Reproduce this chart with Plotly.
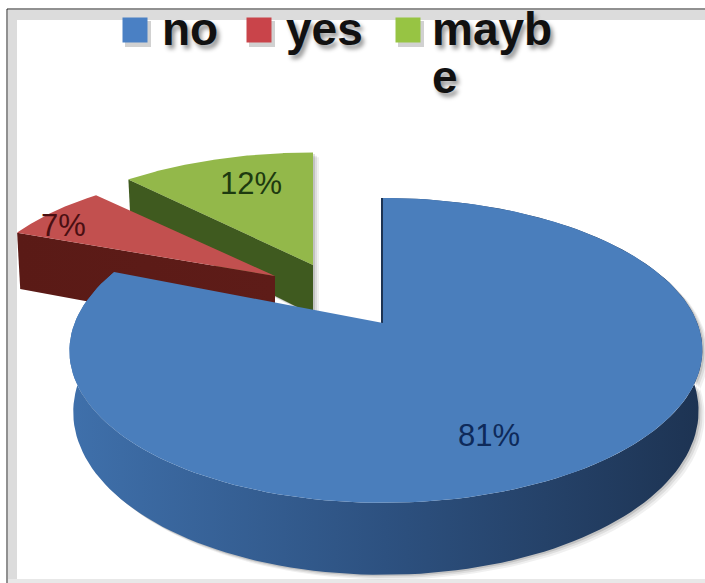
import numpy as np
import plotly.graph_objects as go

# ---- data ----
labels = ["no", "yes", "maybe"]
values = [81, 7, 12]
legend_lines = [["no"], ["yes"], ["mayb", "e"]]

# ---- styles ----
top_colors = ["#4a7ebc", "#c2504f", "#93b84a"]
swatch_colors = ["#4a80c4", "#c9444a", "#97c443"]
text_colors = ["#0e2a5a", "#4a0f12", "#1d3a10"]
wall_scales = [
    [[0, "#3f70ab"], [0.5, "#2d5180"], [1, "#1d3352"]],
    [[0, "#5a1a16"], [1, "#5e1c18"]],
    [[0, "#3f5a1f"], [1, "#3f5a1f"]],
]
W, H = 705, 583
RX, RY, K = 311.3, 147.5, 0.18     # projected disc
APEX = {0: (383, 323), 1: (275, 276), 2: (313, 265)}      # exploded slice origin
SKEW = {0: 3, 1: 0, 2: 0}
SCALE = {0: (1.0, 1.0), 1: (0.95, 0.85), 2: (0.98, 0.90)}
DEPTH = {0: 59, 1: 60, 2: 50}
LABEL_OFFSET = {0: (106, 112), 1: (-212, -51), 2: (-62, -82)}
LEGEND_SWATCH_X = [135, 259, 408]
LEGEND_TEXT_X = [160, 284, 430]
LEGEND_SWATCH_Y = 30
LEGEND_LINE_Y = [29, 77]


def project(theta, i, drop=0.0):
    u, v = np.sin(theta), np.cos(theta)
    w = 1 + K * v
    shrink = 1 - 0.012 * (drop > 0)
    x = APEX[i][0] + SCALE[i][0] * shrink * RX * u / w + SKEW[i] * u ** 2
    y = APEX[i][1] - SCALE[i][1] * RY * v / w + drop / w
    return x, y


total = sum(values)
edges = np.cumsum([0] + values) / total * 2 * np.pi

fig = go.Figure()


def poly(x, y, **kw):
    fig.add_trace(go.Scatter(x=x, y=y, mode="lines", fill="toself", showlegend=False,
                             hoverinfo="skip", **kw))


for i in [2, 1, 0]:
    t = np.linspace(edges[i], edges[i + 1], 160)
    xt, yt = project(t, i)
    xb, yb = project(t, i, DEPTH[i])
    ax, ay = APEX[i]
    if i == 0:
        # rim band of the big slice
        wx, wy = np.r_[xt, xb[::-1]], np.r_[yt, yb[::-1]]
        sx, sy = wx, wy
    else:
        # cut face below the leading edge of an exploded slice
        wx = np.r_[ax, xt[0], xb[0], ax]
        wy = np.r_[ay, yt[0], yb[0], ay + DEPTH[i]]
        sx = np.r_[xt[::-1], xb[0], ax, ax]
        sy = np.r_[yt[::-1], yb[0], ay + DEPTH[i], ay]
    if i != 1:
        for off, alpha in [(6, 0.06), (4, 0.08), (2, 0.12)]:
            poly(sx + off, sy + off * 0.8, line=dict(width=0), fillcolor=f"rgba(0,0,0,{alpha})")
    poly(wx, wy, line=dict(width=0), fillgradient=dict(type="horizontal", colorscale=wall_scales[i]))
    if i == 0:
        fig.add_trace(go.Scatter(x=[ax, xt[0]], y=[ay, yt[0]], mode="lines", showlegend=False,
                                 hoverinfo="skip", line=dict(color="#1d3352", width=4)))
    poly(np.r_[ax, xt, ax], np.r_[ay, yt, ay], line=dict(width=0), fillcolor=top_colors[i])

# legend swatches
fig.add_trace(go.Scatter(
    x=[x + 3 for x in LEGEND_SWATCH_X], y=[LEGEND_SWATCH_Y + 4] * 3, mode="markers",
    showlegend=False, hoverinfo="skip",
    marker=dict(symbol="square", size=26, color="rgba(0,0,0,0.18)"),
))
fig.add_trace(go.Scatter(
    x=LEGEND_SWATCH_X, y=[LEGEND_SWATCH_Y] * 3, mode="markers", showlegend=False,
    hoverinfo="skip", text=labels,
    marker=dict(symbol="square", size=25, color=swatch_colors),
))

annotations = []
# percent labels
for i, v in enumerate(values):
    annotations.append(dict(
        x=APEX[i][0] + LABEL_OFFSET[i][0], y=APEX[i][1] + LABEL_OFFSET[i][1],
        text=f"{round(v / total * 100)}%", showarrow=False, xanchor="center", yanchor="middle",
        font=dict(family="Liberation Sans", size=31, color=text_colors[i]),
    ))
# legend text
for x, lines in zip(LEGEND_TEXT_X, legend_lines):
    for y, line in zip(LEGEND_LINE_Y, lines):
        annotations.append(dict(
            x=x, y=y, text=line, showarrow=False, xanchor="left", yanchor="middle",
            font=dict(family="Liberation Sans", size=46, color="#111111", weight="bold",
                      shadow="3px 4px 4px #999999"),
        ))

band = "#dcdcdc"
shapes = [
    dict(type="rect", x0=8, x1=17, y0=10, y1=H, fillcolor=band, line_width=0, layer="below"),
    dict(type="rect", x0=8, x1=W, y0=10, y1=20, fillcolor=band, line_width=0, layer="below"),
    dict(type="rect", x0=8, x1=W, y0=579, y1=H, fillcolor="#e8e8e8", line_width=0, layer="below"),
    dict(type="line", x0=7, x1=7, y0=9, y1=H, line=dict(color="#222222", width=1), layer="below"),
    dict(type="line", x0=7, x1=W, y0=9, y1=9, line=dict(color="#222222", width=1), layer="below"),
]

fig.update_layout(
    width=W, height=H, margin=dict(l=0, r=0, t=0, b=0),
    paper_bgcolor="white", plot_bgcolor="white", showlegend=False,
    xaxis=dict(range=[0, W], visible=False, fixedrange=True),
    yaxis=dict(range=[H, 0], visible=False, fixedrange=True),
    shapes=shapes, annotations=annotations, hovermode=False,
)
fig.write_html("out.html", config=dict(displayModeBar=False),
               post_script="document.body.style.margin='0';")
